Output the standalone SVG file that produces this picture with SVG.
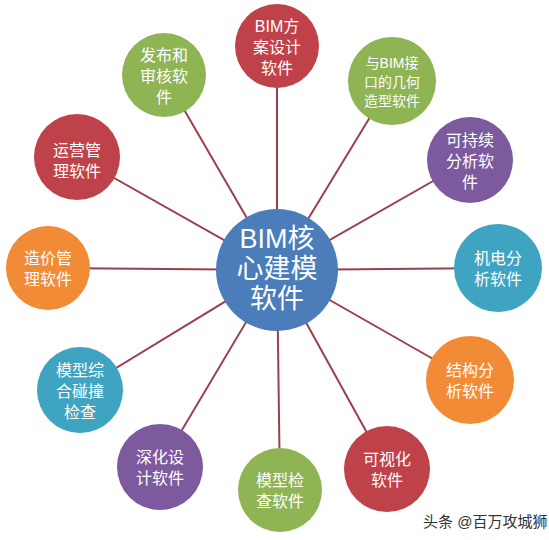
<svg xmlns="http://www.w3.org/2000/svg" width="549" height="540" viewBox="0 0 549 540">
<style>
.bg{fill:#ffffff}
.ln{stroke:#9C3F4C;stroke-width:2;fill:none}
.red{fill:#BF4149}
.green{fill:#8FB453}
.purple{fill:#7D5A9E}
.orange{fill:#F28B36}
.teal{fill:#3FA4C1}
.blue{fill:#4A7DB9}
text{font-family:"Liberation Sans","Noto Sans CJK SC",sans-serif;fill:#ffffff;text-anchor:middle}
.t{font-size:16px}
.s{font-size:14px}
.c{font-size:27px}
.wm{font-size:15px;fill:#333333;text-anchor:start}
</style>
<rect class="bg" x="0" y="0" width="549" height="540"/>
<g id="connectors">
<line class="ln" x1="277" y1="270" x2="277" y2="46"/>
<line class="ln" x1="277" y1="270" x2="392" y2="81"/>
<line class="ln" x1="277" y1="270" x2="470" y2="160"/>
<line class="ln" x1="277" y1="270" x2="498" y2="268"/>
<line class="ln" x1="277" y1="270" x2="470" y2="380"/>
<line class="ln" x1="277" y1="270" x2="387" y2="469"/>
<line class="ln" x1="277" y1="270" x2="280" y2="490"/>
<line class="ln" x1="277" y1="270" x2="160" y2="467"/>
<line class="ln" x1="277" y1="270" x2="80" y2="390"/>
<line class="ln" x1="277" y1="270" x2="48" y2="268"/>
<line class="ln" x1="277" y1="270" x2="77" y2="157"/>
<line class="ln" x1="277" y1="270" x2="164" y2="75"/>
</g>
<g id="n-bim-design"><circle class="red" cx="277" cy="46" r="42"/>
<text class="t" x="277" y="32">BIM方</text><text class="t" x="277" y="53">案设计</text><text class="t" x="277" y="74">软件</text></g>
<g id="n-geometry"><circle class="green" cx="392" cy="81" r="44"/>
<text class="s" x="392" y="68">与BIM接</text><text class="s" x="392" y="87">口的几何</text><text class="s" x="392" y="106">造型软件</text></g>
<g id="n-sustain"><circle class="purple" cx="470" cy="160" r="43"/>
<text class="t" x="470" y="146">可持续</text><text class="t" x="470" y="167">分析软</text><text class="t" x="470" y="188">件</text></g>
<g id="n-mep"><circle class="teal" cx="498" cy="268" r="44"/>
<text class="t" x="498" y="264">机电分</text><text class="t" x="498" y="285">析软件</text></g>
<g id="n-structure"><circle class="orange" cx="470" cy="380" r="44"/>
<text class="t" x="470" y="376">结构分</text><text class="t" x="470" y="397">析软件</text></g>
<g id="n-visual"><circle class="red" cx="387" cy="469" r="43"/>
<text class="t" x="387" y="465">可视化</text><text class="t" x="387" y="486">软件</text></g>
<g id="n-check"><circle class="green" cx="280" cy="490" r="42"/>
<text class="t" x="280" y="486">模型检</text><text class="t" x="280" y="507">查软件</text></g>
<g id="n-detail"><circle class="purple" cx="160" cy="467" r="43"/>
<text class="t" x="160" y="463">深化设</text><text class="t" x="160" y="484">计软件</text></g>
<g id="n-clash"><circle class="teal" cx="80" cy="390" r="43"/>
<text class="t" x="80" y="376">模型综</text><text class="t" x="80" y="397">合碰撞</text><text class="t" x="80" y="418">检查</text></g>
<g id="n-cost"><circle class="orange" cx="48" cy="268" r="42"/>
<text class="t" x="48" y="264">造价管</text><text class="t" x="48" y="285">理软件</text></g>
<g id="n-operation"><circle class="red" cx="77" cy="157" r="43"/>
<text class="t" x="77" y="156">运营管</text><text class="t" x="77" y="177">理软件</text></g>
<g id="n-publish"><circle class="green" cx="164" cy="75" r="42"/>
<text class="t" x="164" y="61">发布和</text><text class="t" x="164" y="82">审核软</text><text class="t" x="164" y="103">件</text></g>
<g id="n-core"><circle class="blue" cx="277" cy="270" r="61"/>
<text class="c" x="277" y="248">BIM核</text><text class="c" x="277" y="278">心建模</text><text class="c" x="277" y="308">软件</text></g>
<text class="wm" x="423" y="527">头条 @百万攻城狮</text>
</svg>
